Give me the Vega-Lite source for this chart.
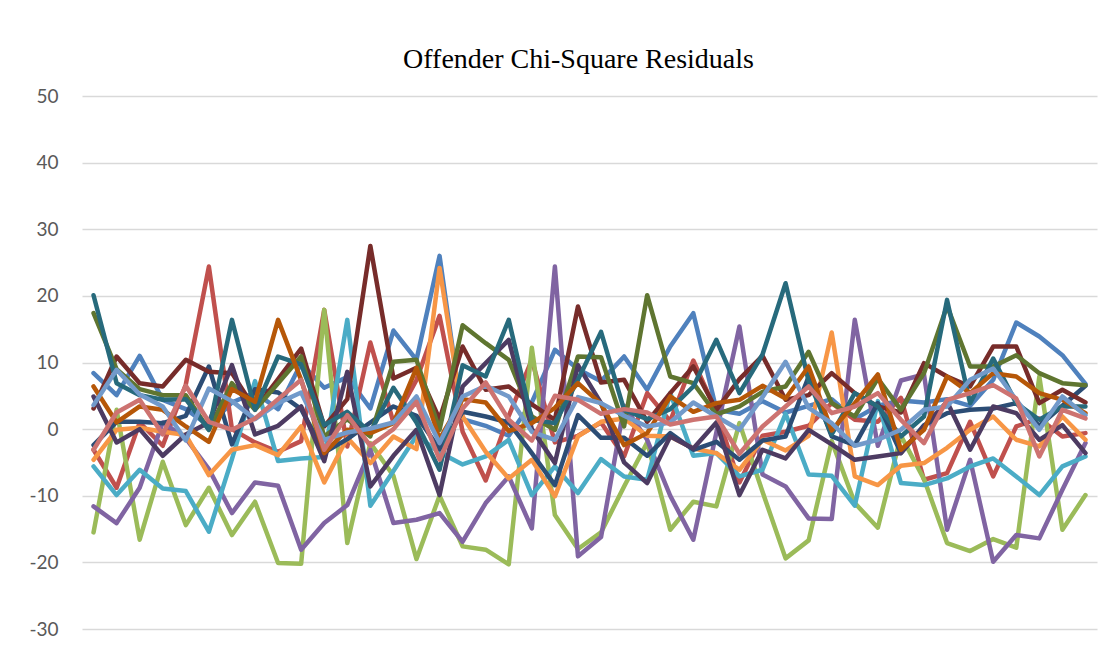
{
"$schema": "https://vega.github.io/schema/vega-lite/v6.json",
"width": 1015, "height": 533,
"autosize": {"type": "none"},
"padding": {"left": 82, "top": 96, "right": 15, "bottom": 24},
"background": "white",
"title": {"text": "Offender Chi-Square Residuals", "font": "Liberation Serif", "fontSize": 28, "fontWeight": "normal", "color": "#000000", "anchor": "middle", "dx": -11, "offset": 13},
"data": {"values": [
{"s":"S01","i":0,"v":8.4},{"s":"S01","i":1,"v":5.1},{"s":"S01","i":2,"v":11},{"s":"S01","i":3,"v":4.4},{"s":"S01","i":4,"v":3},{"s":"S01","i":5,"v":0.5},{"s":"S01","i":6,"v":4},{"s":"S01","i":7,"v":5.5},{"s":"S01","i":8,"v":3},{"s":"S01","i":9,"v":9.9},{"s":"S01","i":10,"v":6.2},{"s":"S01","i":11,"v":7.8},{"s":"S01","i":12,"v":3.1},{"s":"S01","i":13,"v":14.8},{"s":"S01","i":14,"v":10.4},{"s":"S01","i":15,"v":26},{"s":"S01","i":16,"v":1.5},{"s":"S01","i":17,"v":0.5},{"s":"S01","i":18,"v":-1},{"s":"S01","i":19,"v":4},{"s":"S01","i":20,"v":11.9},{"s":"S01","i":21,"v":9},{"s":"S01","i":22,"v":7.2},{"s":"S01","i":23,"v":10.9},{"s":"S01","i":24,"v":5.9},{"s":"S01","i":25,"v":12.4},{"s":"S01","i":26,"v":17.4},{"s":"S01","i":27,"v":2.9},{"s":"S01","i":28,"v":2.3},{"s":"S01","i":29,"v":4.2},{"s":"S01","i":30,"v":2.5},{"s":"S01","i":31,"v":3.5},{"s":"S01","i":32,"v":4.5},{"s":"S01","i":33,"v":1.5},{"s":"S01","i":34,"v":3.5},{"s":"S01","i":35,"v":4.3},{"s":"S01","i":36,"v":4},{"s":"S01","i":37,"v":4.5},{"s":"S01","i":38,"v":3.5},{"s":"S01","i":39,"v":7.4},{"s":"S01","i":40,"v":16},{"s":"S01","i":41,"v":13.9},{"s":"S01","i":42,"v":11.1},{"s":"S01","i":43,"v":6.8},
{"s":"S02","i":0,"v":-3.1},{"s":"S02","i":1,"v":-8.8},{"s":"S02","i":2,"v":1},{"s":"S02","i":3,"v":-2.5},{"s":"S02","i":4,"v":6.7},{"s":"S02","i":5,"v":24.4},{"s":"S02","i":6,"v":0},{"s":"S02","i":7,"v":-2},{"s":"S02","i":8,"v":-3.4},{"s":"S02","i":9,"v":-1.8},{"s":"S02","i":10,"v":17.9},{"s":"S02","i":11,"v":-2.6},{"s":"S02","i":12,"v":13},{"s":"S02","i":13,"v":1},{"s":"S02","i":14,"v":7.4},{"s":"S02","i":15,"v":17},{"s":"S02","i":16,"v":-0.4},{"s":"S02","i":17,"v":-7.7},{"s":"S02","i":18,"v":2},{"s":"S02","i":19,"v":10.4},{"s":"S02","i":20,"v":-2},{"s":"S02","i":21,"v":-1},{"s":"S02","i":22,"v":1},{"s":"S02","i":23,"v":-4.1},{"s":"S02","i":24,"v":5.4},{"s":"S02","i":25,"v":1.2},{"s":"S02","i":26,"v":10.3},{"s":"S02","i":27,"v":2.6},{"s":"S02","i":28,"v":-8},{"s":"S02","i":29,"v":-1},{"s":"S02","i":30,"v":-0.4},{"s":"S02","i":31,"v":0.5},{"s":"S02","i":32,"v":3.9},{"s":"S02","i":33,"v":1.4},{"s":"S02","i":34,"v":1.1},{"s":"S02","i":35,"v":4.7},{"s":"S02","i":36,"v":-7.6},{"s":"S02","i":37,"v":-6.6},{"s":"S02","i":38,"v":1.1},{"s":"S02","i":39,"v":-7.1},{"s":"S02","i":40,"v":0.4},{"s":"S02","i":41,"v":1.6},{"s":"S02","i":42,"v":-1.1},{"s":"S02","i":43,"v":-0.6},
{"s":"S03","i":0,"v":-15.5},{"s":"S03","i":1,"v":2.9},{"s":"S03","i":2,"v":-16.6},{"s":"S03","i":3,"v":-4.9},{"s":"S03","i":4,"v":-14.4},{"s":"S03","i":5,"v":-8.8},{"s":"S03","i":6,"v":-15.9},{"s":"S03","i":7,"v":-10.9},{"s":"S03","i":8,"v":-20.1},{"s":"S03","i":9,"v":-20.2},{"s":"S03","i":10,"v":17.9},{"s":"S03","i":11,"v":-17.1},{"s":"S03","i":12,"v":-2.1},{"s":"S03","i":13,"v":-7},{"s":"S03","i":14,"v":-19.5},{"s":"S03","i":15,"v":-10},{"s":"S03","i":16,"v":-17.6},{"s":"S03","i":17,"v":-18.1},{"s":"S03","i":18,"v":-20.3},{"s":"S03","i":19,"v":12.2},{"s":"S03","i":20,"v":-12.9},{"s":"S03","i":21,"v":-18},{"s":"S03","i":22,"v":-15.5},{"s":"S03","i":23,"v":-8.6},{"s":"S03","i":24,"v":-2},{"s":"S03","i":25,"v":-15.1},{"s":"S03","i":26,"v":-10.9},{"s":"S03","i":27,"v":-11.6},{"s":"S03","i":28,"v":0.9},{"s":"S03","i":29,"v":-9.4},{"s":"S03","i":30,"v":-19.4},{"s":"S03","i":31,"v":-16.7},{"s":"S03","i":32,"v":-1.8},{"s":"S03","i":33,"v":-11.1},{"s":"S03","i":34,"v":-14.8},{"s":"S03","i":35,"v":-1},{"s":"S03","i":36,"v":-7.5},{"s":"S03","i":37,"v":-17.1},{"s":"S03","i":38,"v":-18.3},{"s":"S03","i":39,"v":-16.5},{"s":"S03","i":40,"v":-17.8},{"s":"S03","i":41,"v":7.9},{"s":"S03","i":42,"v":-15.1},{"s":"S03","i":43,"v":-9.9},
{"s":"S04","i":0,"v":-11.6},{"s":"S04","i":1,"v":-14.1},{"s":"S04","i":2,"v":-8.8},{"s":"S04","i":3,"v":1},{"s":"S04","i":4,"v":-1.4},{"s":"S04","i":5,"v":-6},{"s":"S04","i":6,"v":-12.6},{"s":"S04","i":7,"v":-8},{"s":"S04","i":8,"v":-8.5},{"s":"S04","i":9,"v":-18.1},{"s":"S04","i":10,"v":-14.1},{"s":"S04","i":11,"v":-11.4},{"s":"S04","i":12,"v":-3.1},{"s":"S04","i":13,"v":-14.1},{"s":"S04","i":14,"v":-13.6},{"s":"S04","i":15,"v":-12.6},{"s":"S04","i":16,"v":-16.9},{"s":"S04","i":17,"v":-11.1},{"s":"S04","i":18,"v":-7.1},{"s":"S04","i":19,"v":-14.9},{"s":"S04","i":20,"v":24.4},{"s":"S04","i":21,"v":-19.1},{"s":"S04","i":22,"v":-16.2},{"s":"S04","i":23,"v":3.5},{"s":"S04","i":24,"v":-1.6},{"s":"S04","i":25,"v":-10},{"s":"S04","i":26,"v":-16.6},{"s":"S04","i":27,"v":-0.5},{"s":"S04","i":28,"v":15.4},{"s":"S04","i":29,"v":-6.8},{"s":"S04","i":30,"v":-8.6},{"s":"S04","i":31,"v":-13.4},{"s":"S04","i":32,"v":-13.5},{"s":"S04","i":33,"v":16.4},{"s":"S04","i":34,"v":-2.5},{"s":"S04","i":35,"v":7.3},{"s":"S04","i":36,"v":8.2},{"s":"S04","i":37,"v":-15.1},{"s":"S04","i":38,"v":-4.6},{"s":"S04","i":39,"v":-19.9},{"s":"S04","i":40,"v":-15.9},{"s":"S04","i":41,"v":-16.4},{"s":"S04","i":42,"v":-9.1},{"s":"S04","i":43,"v":-2.1},
{"s":"S05","i":0,"v":-5.6},{"s":"S05","i":1,"v":-9.9},{"s":"S05","i":2,"v":-6.1},{"s":"S05","i":3,"v":-8.9},{"s":"S05","i":4,"v":-9.3},{"s":"S05","i":5,"v":-15.4},{"s":"S05","i":6,"v":-4.5},{"s":"S05","i":7,"v":7.2},{"s":"S05","i":8,"v":-4.8},{"s":"S05","i":9,"v":-4.4},{"s":"S05","i":10,"v":-4.2},{"s":"S05","i":11,"v":16.4},{"s":"S05","i":12,"v":-11.5},{"s":"S05","i":13,"v":-6.3},{"s":"S05","i":14,"v":-1},{"s":"S05","i":15,"v":-3.5},{"s":"S05","i":16,"v":-5.3},{"s":"S05","i":17,"v":-4.1},{"s":"S05","i":18,"v":-1.6},{"s":"S05","i":19,"v":-9.9},{"s":"S05","i":20,"v":-5.6},{"s":"S05","i":21,"v":-9.6},{"s":"S05","i":22,"v":-4.5},{"s":"S05","i":23,"v":-7.1},{"s":"S05","i":24,"v":-7.6},{"s":"S05","i":25,"v":5.4},{"s":"S05","i":26,"v":-4},{"s":"S05","i":27,"v":-3.6},{"s":"S05","i":28,"v":-7.1},{"s":"S05","i":29,"v":-6.1},{"s":"S05","i":30,"v":2.3},{"s":"S05","i":31,"v":-6.8},{"s":"S05","i":32,"v":-7},{"s":"S05","i":33,"v":-11.5},{"s":"S05","i":34,"v":4.2},{"s":"S05","i":35,"v":-8.1},{"s":"S05","i":36,"v":-8.4},{"s":"S05","i":37,"v":-7.4},{"s":"S05","i":38,"v":-5.6},{"s":"S05","i":39,"v":-4.4},{"s":"S05","i":40,"v":-7.1},{"s":"S05","i":41,"v":-9.9},{"s":"S05","i":42,"v":-5.6},{"s":"S05","i":43,"v":-4.1},
{"s":"S06","i":0,"v":-4.6},{"s":"S06","i":1,"v":-0.1},{"s":"S06","i":2,"v":0.2},{"s":"S06","i":3,"v":-0.4},{"s":"S06","i":4,"v":-0.9},{"s":"S06","i":5,"v":-6.9},{"s":"S06","i":6,"v":-3.1},{"s":"S06","i":7,"v":-2.4},{"s":"S06","i":8,"v":-3.9},{"s":"S06","i":9,"v":0.4},{"s":"S06","i":10,"v":-8},{"s":"S06","i":11,"v":-1.3},{"s":"S06","i":12,"v":-5.1},{"s":"S06","i":13,"v":-1.1},{"s":"S06","i":14,"v":-3},{"s":"S06","i":15,"v":24.2},{"s":"S06","i":16,"v":1.9},{"s":"S06","i":17,"v":-3.4},{"s":"S06","i":18,"v":-7.4},{"s":"S06","i":19,"v":-4.6},{"s":"S06","i":20,"v":-10.1},{"s":"S06","i":21,"v":-1.1},{"s":"S06","i":22,"v":1.1},{"s":"S06","i":23,"v":1.6},{"s":"S06","i":24,"v":-1},{"s":"S06","i":25,"v":-1.1},{"s":"S06","i":26,"v":-2.9},{"s":"S06","i":27,"v":-3.6},{"s":"S06","i":28,"v":-6.1},{"s":"S06","i":29,"v":-1.6},{"s":"S06","i":30,"v":-3.2},{"s":"S06","i":31,"v":-1},{"s":"S06","i":32,"v":14.5},{"s":"S06","i":33,"v":-7.1},{"s":"S06","i":34,"v":-8.4},{"s":"S06","i":35,"v":-5.5},{"s":"S06","i":36,"v":-5.1},{"s":"S06","i":37,"v":-2.8},{"s":"S06","i":38,"v":-0.1},{"s":"S06","i":39,"v":1.9},{"s":"S06","i":40,"v":-1.6},{"s":"S06","i":41,"v":-2.6},{"s":"S06","i":42,"v":1.9},{"s":"S06","i":43,"v":-1.6},
{"s":"S07","i":0,"v":-2.4},{"s":"S07","i":1,"v":1.1},{"s":"S07","i":2,"v":1.1},{"s":"S07","i":3,"v":0.9},{"s":"S07","i":4,"v":2},{"s":"S07","i":5,"v":9.4},{"s":"S07","i":6,"v":-2.3},{"s":"S07","i":7,"v":6},{"s":"S07","i":8,"v":5.5},{"s":"S07","i":9,"v":3},{"s":"S07","i":10,"v":-3.5},{"s":"S07","i":11,"v":-1.5},{"s":"S07","i":12,"v":1},{"s":"S07","i":13,"v":3.4},{"s":"S07","i":14,"v":2},{"s":"S07","i":15,"v":-3},{"s":"S07","i":16,"v":2.6},{"s":"S07","i":17,"v":1.9},{"s":"S07","i":18,"v":1},{"s":"S07","i":19,"v":-3.6},{"s":"S07","i":20,"v":-8.4},{"s":"S07","i":21,"v":2.1},{"s":"S07","i":22,"v":-1.3},{"s":"S07","i":23,"v":-1.3},{"s":"S07","i":24,"v":-4},{"s":"S07","i":25,"v":-0.6},{"s":"S07","i":26,"v":-3.1},{"s":"S07","i":27,"v":-1.9},{"s":"S07","i":28,"v":-4.6},{"s":"S07","i":29,"v":-1.7},{"s":"S07","i":30,"v":-1.1},{"s":"S07","i":31,"v":7.9},{"s":"S07","i":32,"v":-1.1},{"s":"S07","i":33,"v":-2.4},{"s":"S07","i":34,"v":3.9},{"s":"S07","i":35,"v":-3.6},{"s":"S07","i":36,"v":0.6},{"s":"S07","i":37,"v":2.4},{"s":"S07","i":38,"v":2.9},{"s":"S07","i":39,"v":3.1},{"s":"S07","i":40,"v":3.9},{"s":"S07","i":41,"v":0.5},{"s":"S07","i":42,"v":3.5},{"s":"S07","i":43,"v":6.5},
{"s":"S08","i":0,"v":3.1},{"s":"S08","i":1,"v":10.9},{"s":"S08","i":2,"v":6.9},{"s":"S08","i":3,"v":6.4},{"s":"S08","i":4,"v":10.4},{"s":"S08","i":5,"v":8.6},{"s":"S08","i":6,"v":8.4},{"s":"S08","i":7,"v":3},{"s":"S08","i":8,"v":7.5},{"s":"S08","i":9,"v":12.1},{"s":"S08","i":10,"v":0.4},{"s":"S08","i":11,"v":4.5},{"s":"S08","i":12,"v":27.5},{"s":"S08","i":13,"v":7.6},{"s":"S08","i":14,"v":9.2},{"s":"S08","i":15,"v":1.5},{"s":"S08","i":16,"v":12.4},{"s":"S08","i":17,"v":5.9},{"s":"S08","i":18,"v":6.4},{"s":"S08","i":19,"v":3.7},{"s":"S08","i":20,"v":1.4},{"s":"S08","i":21,"v":18.4},{"s":"S08","i":22,"v":7},{"s":"S08","i":23,"v":7.4},{"s":"S08","i":24,"v":1.1},{"s":"S08","i":25,"v":5.4},{"s":"S08","i":26,"v":9.4},{"s":"S08","i":27,"v":2.9},{"s":"S08","i":28,"v":7.5},{"s":"S08","i":29,"v":11},{"s":"S08","i":30,"v":4.4},{"s":"S08","i":31,"v":5.1},{"s":"S08","i":32,"v":8.4},{"s":"S08","i":33,"v":5.4},{"s":"S08","i":34,"v":3.4},{"s":"S08","i":35,"v":2.5},{"s":"S08","i":36,"v":9.9},{"s":"S08","i":37,"v":7.9},{"s":"S08","i":38,"v":6.4},{"s":"S08","i":39,"v":12.4},{"s":"S08","i":40,"v":12.4},{"s":"S08","i":41,"v":3.9},{"s":"S08","i":42,"v":5.9},{"s":"S08","i":43,"v":4},
{"s":"S09","i":0,"v":17.4},{"s":"S09","i":1,"v":9},{"s":"S09","i":2,"v":6},{"s":"S09","i":3,"v":5.1},{"s":"S09","i":4,"v":5.1},{"s":"S09","i":5,"v":-0.1},{"s":"S09","i":6,"v":6.9},{"s":"S09","i":7,"v":2.9},{"s":"S09","i":8,"v":6.9},{"s":"S09","i":9,"v":10.9},{"s":"S09","i":10,"v":-1.1},{"s":"S09","i":11,"v":1.5},{"s":"S09","i":12,"v":-1.1},{"s":"S09","i":13,"v":10.1},{"s":"S09","i":14,"v":10.4},{"s":"S09","i":15,"v":-0.1},{"s":"S09","i":16,"v":15.6},{"s":"S09","i":17,"v":12.9},{"s":"S09","i":18,"v":10.4},{"s":"S09","i":19,"v":1.9},{"s":"S09","i":20,"v":-0.1},{"s":"S09","i":21,"v":10.9},{"s":"S09","i":22,"v":10.8},{"s":"S09","i":23,"v":0.4},{"s":"S09","i":24,"v":20.1},{"s":"S09","i":25,"v":7.9},{"s":"S09","i":26,"v":6.9},{"s":"S09","i":27,"v":2.2},{"s":"S09","i":28,"v":3.4},{"s":"S09","i":29,"v":5.6},{"s":"S09","i":30,"v":6.4},{"s":"S09","i":31,"v":11.6},{"s":"S09","i":32,"v":3.9},{"s":"S09","i":33,"v":1.9},{"s":"S09","i":34,"v":7.6},{"s":"S09","i":35,"v":2.9},{"s":"S09","i":36,"v":8.4},{"s":"S09","i":37,"v":18.5},{"s":"S09","i":38,"v":9.4},{"s":"S09","i":39,"v":9.4},{"s":"S09","i":40,"v":11.1},{"s":"S09","i":41,"v":8.4},{"s":"S09","i":42,"v":6.9},{"s":"S09","i":43,"v":6.6},
{"s":"S10","i":0,"v":4.9},{"s":"S10","i":1,"v":-2},{"s":"S10","i":2,"v":0},{"s":"S10","i":3,"v":-4},{"s":"S10","i":4,"v":-0.8},{"s":"S10","i":5,"v":1},{"s":"S10","i":6,"v":9.6},{"s":"S10","i":7,"v":-0.8},{"s":"S10","i":8,"v":0.5},{"s":"S10","i":9,"v":3.4},{"s":"S10","i":10,"v":-4.8},{"s":"S10","i":11,"v":8.6},{"s":"S10","i":12,"v":-8.6},{"s":"S10","i":13,"v":-4},{"s":"S10","i":14,"v":-0.1},{"s":"S10","i":15,"v":-9.9},{"s":"S10","i":16,"v":6.4},{"s":"S10","i":17,"v":9.9},{"s":"S10","i":18,"v":13.4},{"s":"S10","i":19,"v":0},{"s":"S10","i":20,"v":-5.1},{"s":"S10","i":21,"v":9.6},{"s":"S10","i":22,"v":3.9},{"s":"S10","i":23,"v":-5},{"s":"S10","i":24,"v":-8.1},{"s":"S10","i":25,"v":-1.1},{"s":"S10","i":26,"v":-2.9},{"s":"S10","i":27,"v":1},{"s":"S10","i":28,"v":-9.9},{"s":"S10","i":29,"v":-3.1},{"s":"S10","i":30,"v":-4.4},{"s":"S10","i":31,"v":-0.1},{"s":"S10","i":32,"v":-2.3},{"s":"S10","i":33,"v":-4.6},{"s":"S10","i":34,"v":-4.1},{"s":"S10","i":35,"v":-3.6},{"s":"S10","i":36,"v":0.4},{"s":"S10","i":37,"v":4.1},{"s":"S10","i":38,"v":-3.1},{"s":"S10","i":39,"v":3.4},{"s":"S10","i":40,"v":2.4},{"s":"S10","i":41,"v":-1.6},{"s":"S10","i":42,"v":0.6},{"s":"S10","i":43,"v":-3.6},
{"s":"S11","i":0,"v":20.1},{"s":"S11","i":1,"v":6.9},{"s":"S11","i":2,"v":5.1},{"s":"S11","i":3,"v":4.4},{"s":"S11","i":4,"v":4.5},{"s":"S11","i":5,"v":-0.1},{"s":"S11","i":6,"v":16.4},{"s":"S11","i":7,"v":2.9},{"s":"S11","i":8,"v":10.9},{"s":"S11","i":9,"v":9.7},{"s":"S11","i":10,"v":0.6},{"s":"S11","i":11,"v":2.6},{"s":"S11","i":12,"v":-0.5},{"s":"S11","i":13,"v":6.2},{"s":"S11","i":14,"v":1},{"s":"S11","i":15,"v":-6.1},{"s":"S11","i":16,"v":9.6},{"s":"S11","i":17,"v":7.9},{"s":"S11","i":18,"v":16.4},{"s":"S11","i":19,"v":1.4},{"s":"S11","i":20,"v":0.9},{"s":"S11","i":21,"v":7.4},{"s":"S11","i":22,"v":14.6},{"s":"S11","i":23,"v":2.9},{"s":"S11","i":24,"v":1.5},{"s":"S11","i":25,"v":3},{"s":"S11","i":26,"v":6.4},{"s":"S11","i":27,"v":13.4},{"s":"S11","i":28,"v":5.4},{"s":"S11","i":29,"v":11.2},{"s":"S11","i":30,"v":21.9},{"s":"S11","i":31,"v":7.2},{"s":"S11","i":32,"v":-0.8},{"s":"S11","i":33,"v":5.4},{"s":"S11","i":34,"v":3.4},{"s":"S11","i":35,"v":-1.1},{"s":"S11","i":36,"v":1.9},{"s":"S11","i":37,"v":19.4},{"s":"S11","i":38,"v":3.9},{"s":"S11","i":39,"v":10.6},{"s":"S11","i":40,"v":3.9},{"s":"S11","i":41,"v":1.4},{"s":"S11","i":42,"v":3.4},{"s":"S11","i":43,"v":3.4},
{"s":"S12","i":0,"v":6.4},{"s":"S12","i":1,"v":1},{"s":"S12","i":2,"v":3.4},{"s":"S12","i":3,"v":2.9},{"s":"S12","i":4,"v":0.4},{"s":"S12","i":5,"v":-1.9},{"s":"S12","i":6,"v":6},{"s":"S12","i":7,"v":4.1},{"s":"S12","i":8,"v":16.4},{"s":"S12","i":9,"v":7.4},{"s":"S12","i":10,"v":-3.6},{"s":"S12","i":11,"v":-0.1},{"s":"S12","i":12,"v":-0.6},{"s":"S12","i":13,"v":0.9},{"s":"S12","i":14,"v":9.2},{"s":"S12","i":15,"v":-1.5},{"s":"S12","i":16,"v":4.5},{"s":"S12","i":17,"v":4},{"s":"S12","i":18,"v":-0.3},{"s":"S12","i":19,"v":0.9},{"s":"S12","i":20,"v":3.2},{"s":"S12","i":21,"v":6.9},{"s":"S12","i":22,"v":3.8},{"s":"S12","i":23,"v":-2.4},{"s":"S12","i":24,"v":-0.6},{"s":"S12","i":25,"v":4.9},{"s":"S12","i":26,"v":2.6},{"s":"S12","i":27,"v":3.9},{"s":"S12","i":28,"v":4.4},{"s":"S12","i":29,"v":6.5},{"s":"S12","i":30,"v":4.6},{"s":"S12","i":31,"v":9.4},{"s":"S12","i":32,"v":-0.2},{"s":"S12","i":33,"v":3.9},{"s":"S12","i":34,"v":8.2},{"s":"S12","i":35,"v":-3.1},{"s":"S12","i":36,"v":-0.1},{"s":"S12","i":37,"v":7.9},{"s":"S12","i":38,"v":5.4},{"s":"S12","i":39,"v":8.4},{"s":"S12","i":40,"v":7.9},{"s":"S12","i":41,"v":5.4},{"s":"S12","i":42,"v":4.4},{"s":"S12","i":43,"v":2.4},
{"s":"S13","i":0,"v":3.6},{"s":"S13","i":1,"v":8.9},{"s":"S13","i":2,"v":5.2},{"s":"S13","i":3,"v":3.4},{"s":"S13","i":4,"v":-1.7},{"s":"S13","i":5,"v":6.1},{"s":"S13","i":6,"v":4.2},{"s":"S13","i":7,"v":1.5},{"s":"S13","i":8,"v":3.9},{"s":"S13","i":9,"v":5.5},{"s":"S13","i":10,"v":-1.6},{"s":"S13","i":11,"v":-0.5},{"s":"S13","i":12,"v":0.1},{"s":"S13","i":13,"v":1},{"s":"S13","i":14,"v":4.9},{"s":"S13","i":15,"v":-2.1},{"s":"S13","i":16,"v":4.9},{"s":"S13","i":17,"v":6.5},{"s":"S13","i":18,"v":4.9},{"s":"S13","i":19,"v":-0.4},{"s":"S13","i":20,"v":-1.6},{"s":"S13","i":21,"v":4.8},{"s":"S13","i":22,"v":3.9},{"s":"S13","i":23,"v":2},{"s":"S13","i":24,"v":0.4},{"s":"S13","i":25,"v":1},{"s":"S13","i":26,"v":4},{"s":"S13","i":27,"v":1.9},{"s":"S13","i":28,"v":-0.1},{"s":"S13","i":29,"v":4.8},{"s":"S13","i":30,"v":10.1},{"s":"S13","i":31,"v":3.2},{"s":"S13","i":32,"v":0.9},{"s":"S13","i":33,"v":-2.5},{"s":"S13","i":34,"v":-1.6},{"s":"S13","i":35,"v":-0.1},{"s":"S13","i":36,"v":2.9},{"s":"S13","i":37,"v":3.4},{"s":"S13","i":38,"v":7.4},{"s":"S13","i":39,"v":9.1},{"s":"S13","i":40,"v":4.4},{"s":"S13","i":41,"v":-0.1},{"s":"S13","i":42,"v":4.9},{"s":"S13","i":43,"v":2.1},
{"s":"S14","i":0,"v":-3.1},{"s":"S14","i":1,"v":2.5},{"s":"S14","i":2,"v":4.4},{"s":"S14","i":3,"v":-0.8},{"s":"S14","i":4,"v":6.5},{"s":"S14","i":5,"v":1.1},{"s":"S14","i":6,"v":-0.1},{"s":"S14","i":7,"v":1.6},{"s":"S14","i":8,"v":4.5},{"s":"S14","i":9,"v":7.4},{"s":"S14","i":10,"v":-3.1},{"s":"S14","i":11,"v":2.1},{"s":"S14","i":12,"v":-2.5},{"s":"S14","i":13,"v":0},{"s":"S14","i":14,"v":4.1},{"s":"S14","i":15,"v":-4.6},{"s":"S14","i":16,"v":3.1},{"s":"S14","i":17,"v":7},{"s":"S14","i":18,"v":1.4},{"s":"S14","i":19,"v":-1.7},{"s":"S14","i":20,"v":5},{"s":"S14","i":21,"v":4.4},{"s":"S14","i":22,"v":2.3},{"s":"S14","i":23,"v":3},{"s":"S14","i":24,"v":2.5},{"s":"S14","i":25,"v":0.7},{"s":"S14","i":26,"v":1.4},{"s":"S14","i":27,"v":1.9},{"s":"S14","i":28,"v":-3.7},{"s":"S14","i":29,"v":0.4},{"s":"S14","i":30,"v":3.4},{"s":"S14","i":31,"v":6.4},{"s":"S14","i":32,"v":2.4},{"s":"S14","i":33,"v":3.4},{"s":"S14","i":34,"v":5.4},{"s":"S14","i":35,"v":1.4},{"s":"S14","i":36,"v":-2.1},{"s":"S14","i":37,"v":4.4},{"s":"S14","i":38,"v":5.4},{"s":"S14","i":39,"v":6.6},{"s":"S14","i":40,"v":4.6},{"s":"S14","i":41,"v":-4.1},{"s":"S14","i":42,"v":2.9},{"s":"S14","i":43,"v":1.6}
]},
"mark": {"type": "line", "strokeWidth": 4.5, "strokeJoin": "round", "strokeCap": "round"},
"encoding": {
"x": {"field": "i", "type": "quantitative", "scale": {"domain": [-0.5, 43.5], "nice": false, "zero": false}, "axis": null},
"y": {"field": "v", "type": "quantitative", "scale": {"domain": [-30, 50], "nice": false}, "axis": {"values": [-30,-20,-10,0,10,20,30,40,50], "labelExpr": "'' + datum.value", "title": null, "domain": false, "ticks": false, "labelPadding": 24, "labelFont": "Lato", "labelFontSize": 19, "labelColor": "#595959", "gridColor": "#D9D9D9", "gridWidth": 1.3}},
"color": {"field": "s", "type": "nominal", "legend": null, "scale": {"domain": ["S01","S02","S03","S04","S05","S06","S07","S08","S09","S10","S11","S12","S13","S14"], "range": ["#4F81BD","#C0504D","#9BBB59","#8064A2","#4BACC6","#F79646","#2C4D75","#772C2A","#5F7530","#4D3B62","#276A7C","#B65708","#729ACA","#CD7371"]}}
},
"config": {"view": {"stroke": null}}
}
